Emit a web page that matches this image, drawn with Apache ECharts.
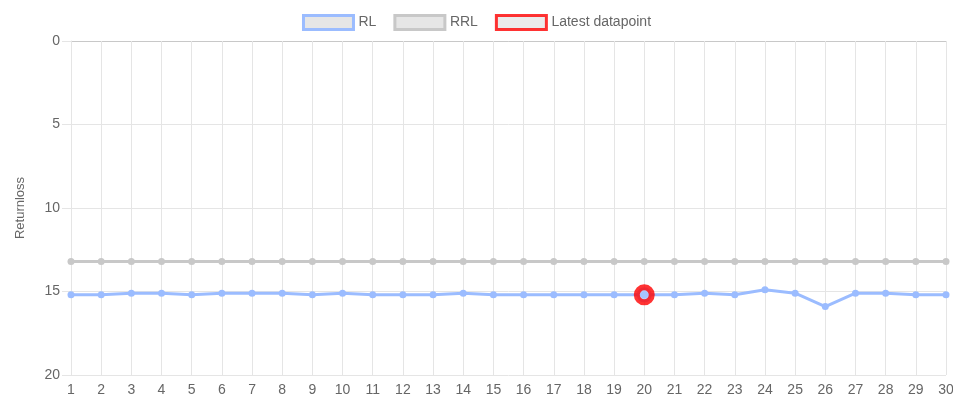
<!DOCTYPE html>
<html><head><meta charset="utf-8">
<script src="https://cdn.jsdelivr.net/npm/echarts@6/dist/echarts.min.js"></script>
<style>html,body{margin:0;padding:0;background:#fff}#c{width:953px;height:400px}</style>
</head><body><div id="c"></div>
<script>
const categories = ['1','2','3','4','5','6','7','8','9','10','11','12','13','14','15','16','17','18','19','20','21','22','23','24','25','26','27','28','29','30'];
const rlValues = [15.2,15.2,15.1,15.1,15.2,15.1,15.1,15.1,15.2,15.1,15.2,15.2,15.2,15.1,15.2,15.2,15.2,15.2,15.2,15.2,15.2,15.1,15.2,14.9,15.1,15.9,15.1,15.1,15.2,15.2];
const rrlValues = [13.2,13.2,13.2,13.2,13.2,13.2,13.2,13.2,13.2,13.2,13.2,13.2,13.2,13.2,13.2,13.2,13.2,13.2,13.2,13.2,13.2,13.2,13.2,13.2,13.2,13.2,13.2,13.2,13.2,13.2];
const latestCategory = '20';
const latestValue = 15.2;
const yTicks = [0,5,10,15,20];

const font = 'Liberation Sans, Arial, Helvetica, sans-serif';
const chart = echarts.init(document.getElementById('c'));
chart.setOption({
  animation:false,
  textStyle:{fontFamily:font},
  legend:{
    top:9, left:'center', itemWidth:50, itemHeight:14, itemGap:17,
    icon:'rect',
    textStyle:{color:'#666', fontSize:14, fontFamily:font},
    data:[
      {name:'RL', itemStyle:{color:'#e6e6e6', borderColor:'#9bbcff', borderWidth:3}},
      {name:'RRL', itemStyle:{color:'#e6e6e6', borderColor:'#c8c8c8', borderWidth:3}},
      {name:'Latest datapoint', itemStyle:{color:'#e6e6e6', borderColor:'#ff0000', borderWidth:3}}
    ]
  },
  grid:{left:71, right:7, top:41, bottom:25, containLabel:false, outerBoundsMode:'none'},
  xAxis:{
    type:'category', data:categories, boundaryGap:false,
    axisLine:{show:true, lineStyle:{color:'#c8c8c8'}},
    axisTick:{show:true, length:5, lineStyle:{color:'#e5e5e5'}},
    axisLabel:{color:'#666', fontSize:14, margin:8, interval:0, fontFamily:font},
    splitLine:{show:true, lineStyle:{color:'#e5e5e5'}}
  },
  yAxis:{
    type:'value', inverse:true, min:0, max:20, interval:5,
    name:'Returnloss', nameLocation:'middle', nameGap:44, nameRotate:90,
    nameTextStyle:{color:'#666', fontSize:13, fontFamily:font},
    axisLine:{show:true, lineStyle:{color:'#e5e5e5'}},
    axisTick:{show:true, length:9, lineStyle:{color:'#e5e5e5'}},
    axisLabel:{color:'#666', fontSize:14, margin:11, fontFamily:font},
    splitLine:{show:true, lineStyle:{color:'#e5e5e5'}}
  },
  series:[
    {name:'RL', type:'line', data:rlValues, z:3,
     lineStyle:{color:'#9bbcff', width:3}, itemStyle:{color:'#9bbcff'},
     symbol:'circle', symbolSize:7, showSymbol:true},
    {name:'RRL', type:'line', data:rrlValues, z:2,
     lineStyle:{color:'#c8c8c8', width:3}, itemStyle:{color:'#c8c8c8'},
     symbol:'circle', symbolSize:7},
    {name:'Latest datapoint', type:'scatter', z:5,
     data:[[latestCategory, latestValue]],
     symbol:'circle', symbolSize:15,
     itemStyle:{color:'#a9c4ff', borderColor:'#ff0000', borderWidth:6}}
  ]
});
</script></body></html>
